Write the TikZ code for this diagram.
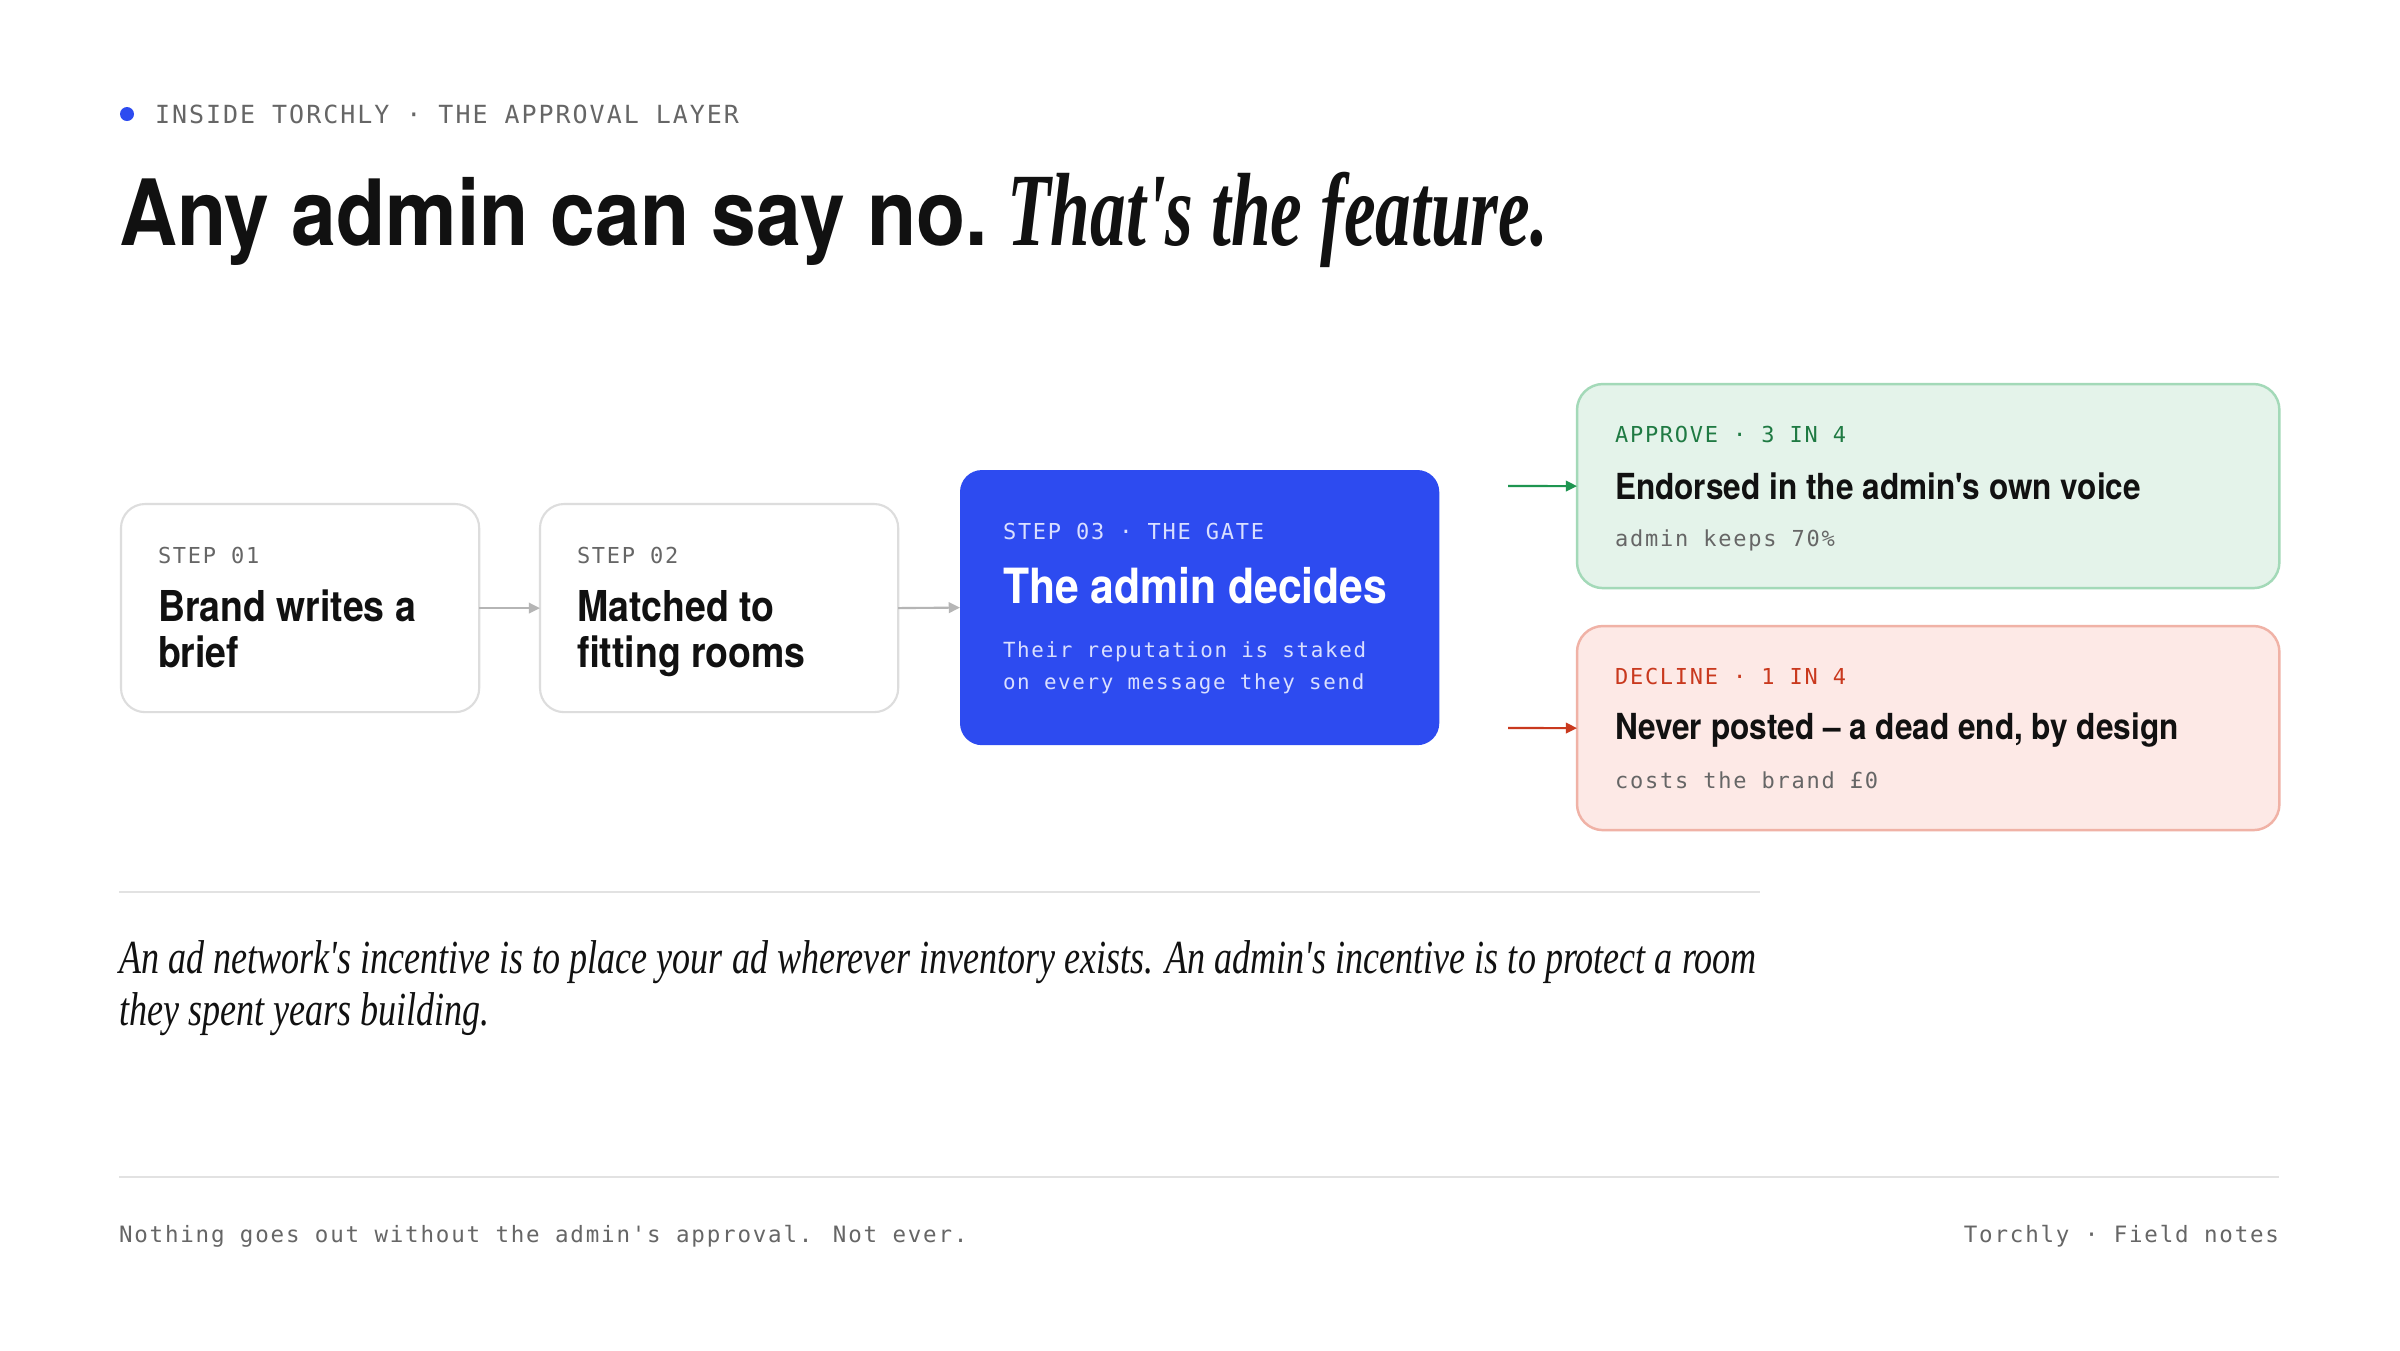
\documentclass[tikz,border=0pt]{standalone}
\usepackage{fontspec}
\usetikzlibrary{arrows.meta}
\setmainfont{TeX Gyre Heros}
\newfontfamily\headsans[FakeStretch=0.88,Ligatures=TeXOff]{TeX Gyre Heros}
\newfontfamily\dispit[FakeStretch=0.685]{Liberation Serif}
\newfontfamily\quoteit[FakeStretch=0.76]{Liberation Serif}
\newfontfamily\mono[LetterSpace=8,Ligatures=TeXOff]{DejaVu Sans Mono}
\definecolor{ink}{HTML}{111111}
\definecolor{muted}{HTML}{666666}
\definecolor{boxline}{HTML}{DDDDDD}
\definecolor{rulegray}{HTML}{E2E2E2}
\definecolor{arrowgray}{HTML}{B5B5B5}
\definecolor{gateblue}{HTML}{2D4BF0}
\definecolor{gatesoft}{HTML}{D9DFFF}
\definecolor{yesfill}{HTML}{E4F3EA}
\definecolor{yesline}{HTML}{A3D9B8}
\definecolor{yestext}{HTML}{1F7A43}
\definecolor{yesarrow}{HTML}{1E9550}
\definecolor{nofill}{HTML}{FDE9E6}
\definecolor{noline}{HTML}{F0B2A6}
\definecolor{notext}{HTML}{C9391E}
\tikzset{
  txt/.style={inner sep=0, outer sep=0, anchor=base west},
  stepbox/.style={draw=boxline, line width=0.6pt, fill=white, rounded corners=0.24cm,
    minimum width=3.58cm, minimum height=2.08cm, anchor=north west, inner sep=0, outer sep=0},
  gatebox/.style={fill=gateblue, rounded corners=0.22cm,
    minimum width=4.79cm, minimum height=2.75cm, anchor=north west, inner sep=0, outer sep=0},
  outbox/.style={line width=0.7pt, rounded corners=0.26cm,
    minimum width=7.02cm, minimum height=2.04cm, anchor=north west, inner sep=0, outer sep=0},
  flow/.style={draw=arrowgray, line width=0.6pt, -{Triangle[length=3.2pt,width=3pt]}},
  tag/.style={txt, font=\mono\fontsize{6.25}{8}\selectfont},
  steptitle/.style={txt, font=\headsans\bfseries\fontsize{12.1}{14}\selectfont, text=ink},
  note/.style={txt, font=\mono\fontsize{6.26}{8}\selectfont},
  rulestyle/.style={draw=rulegray, line width=0.6pt}
}
\begin{document}
\begin{tikzpicture}[x=0.01cm, y=-0.01cm]
\useasboundingbox[fill=white] (0,0) rectangle (2400,1350);

% header
\fill[gateblue] (127,114) circle (7);
\node[txt, font=\mono\fontsize{7.1}{9}\selectfont, text=muted] (kicker) at (155,123)
  {INSIDE TORCHLY · THE APPROVAL LAYER};
\node[txt, text=ink] (title) at (119,245)
  {\headsans\bfseries\fontsize{26}{30}\selectfont Any admin can say no.\hspace{-3pt}
   {\dispit\itshape\fontsize{29.6}{32}\selectfont That's the feature.}};

% steps
\node[stepbox] (s1) at (121,504) {};
\node[tag, text=muted] at (158,563) {STEP 01};
\node[steptitle] at (158,621) {Brand writes a};
\node[steptitle] at (158,667) {brief};

\node[stepbox] (s2) at (540,504) {};
\node[tag, text=muted] at (577,563) {STEP 02};
\node[steptitle] at (577,621) {Matched to};
\node[steptitle] at (577,667) {fitting rooms};

\node[gatebox] (gate) at (960,470) {};
\node[tag, text=gatesoft] at (1003,539) {STEP 03 · THE GATE};
\node[txt, font=\headsans\bfseries\fontsize{13.8}{16}\selectfont, text=white] at (1003,603) {The admin decides};
\node[note, font=\mono\fontsize{5.93}{8}\selectfont, text=gatesoft] at (1003,657) {Their reputation is staked};
\node[note, font=\mono\fontsize{5.93}{8}\selectfont, text=gatesoft] at (1003,689) {on every message they send};

\draw[flow] (s1.east) -- (s2.west);
\draw[flow] (s2.east) -- (gate.west);

% outcomes
\node[outbox, draw=yesline, fill=yesfill] (approve) at (1577,384) {};
\node[tag, text=yestext] at (1615,442) {APPROVE · 3 IN 4};
\node[txt, font=\headsans\bfseries\fontsize{10.2}{12}\selectfont, text=ink] at (1615,499) {Endorsed in the admin's own voice};
\node[note, text=muted] at (1615,546) {admin keeps 70\%};

\node[outbox, draw=noline, fill=nofill] (decline) at (1577,626) {};
\node[tag, text=notext] at (1615,684) {DECLINE · 1 IN 4};
\node[txt, font=\headsans\bfseries\fontsize{10.2}{12}\selectfont, text=ink] at (1615,739) {Never posted – a dead end, by design};
\node[note, text=muted] at (1615,788) {costs the brand £0};

\coordinate (yesin) at (1508,486);
\coordinate (noin) at (1508,728);
\draw[yesarrow, line width=0.6pt, -{Triangle[length=3.2pt,width=3pt]}] (yesin) -- (approve.west);
\draw[notext, line width=0.6pt, -{Triangle[length=3.2pt,width=3pt]}] (noin) -- (decline.west);

% quote
\draw[rulestyle] (119,892) -- (1760,892);
\node[txt, font=\quoteit\itshape\fontsize{13.5}{16}\selectfont, text=ink] at (119,973)
  {An ad network's incentive is to place your ad wherever inventory exists. An admin's incentive is to protect a room};
\node[txt, font=\quoteit\itshape\fontsize{13.5}{16}\selectfont, text=ink] at (119,1025)
  {they spent years building.};

% footer
\draw[rulestyle] (119,1177) -- (2279,1177);
\node[txt, font=\mono\fontsize{6.4}{8}\selectfont, text=muted] at (119,1242)
  {Nothing goes out without the admin's approval. Not ever.};
\node[txt, anchor=base east, font=\mono\fontsize{6.4}{8}\selectfont, text=muted] at (2279,1242)
  {Torchly · Field notes};
\end{tikzpicture}
\end{document}
